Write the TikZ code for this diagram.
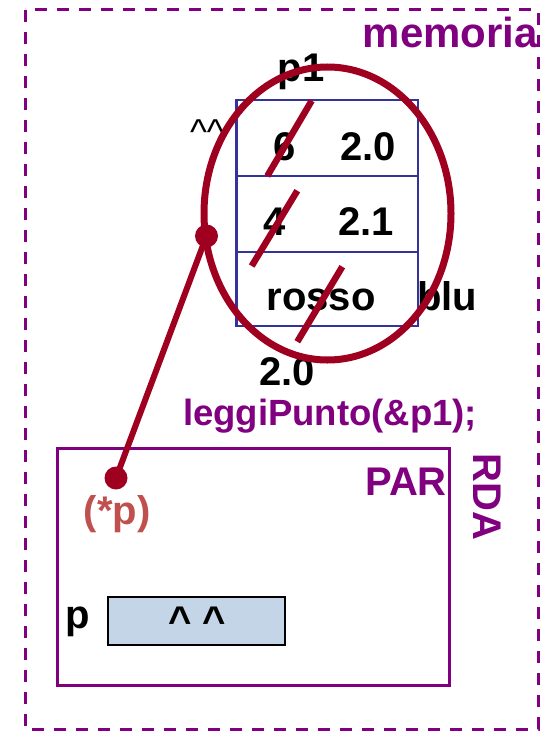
\documentclass[tikz,border=0pt]{standalone}
\usepackage{fontspec}
\setmainfont{Liberation Sans}
\definecolor{mpurple}{RGB}{128,0,128}
\definecolor{mred}{RGB}{160,0,32}
\definecolor{msalmon}{RGB}{192,80,77}
\definecolor{mblue}{RGB}{51,51,153}
\definecolor{mfill}{RGB}{197,213,232}
\tikzset{
  lbl/.style={inner sep=0pt, anchor=base, font=\bfseries\fontsize{40}{48}\selectfont},
  dotnode/.style={circle, fill=mred, inner sep=0pt, minimum size=23pt},
  redline/.style={draw=mred, line width=6pt},
  slash/.style={draw=mred, line width=6.5pt},
}
\begin{document}
\begin{tikzpicture}[x=1pt,y=-1pt]
\useasboundingbox (0,0) rectangle (547,733);
% memoria
\draw[mpurple, line width=3pt, dash pattern=on 12pt off 10pt] (25,10) rectangle (538,729);
\node[lbl, anchor=base east, text=mpurple, font=\bfseries\fontsize{42}{48}\selectfont] (memoria) at (538,48) {memoria};
% table
\draw[mblue, line width=2.5pt] (236.5,100) rectangle (418,326);
\draw[mblue, line width=2.5pt] (236.5,176) -- (418,176);
\draw[mblue, line width=2.5pt] (236.5,252) -- (418,252);
\node[lbl] (p1) at (301,82) {p1};
\node[inner sep=0pt, anchor=base, font=\fontsize{36}{40}\selectfont] (hat) at (207,144) {\^{}\^{}};
\node[lbl] (a1) at (285,160) {6};
\node[lbl] (b1) at (368,160) {2.0};
\node[lbl] (a2) at (275,235) {4};
\node[lbl] (b2) at (366,235) {2.1};
\node[lbl] (c3) at (321,310) {rosso};
\node[lbl] (blu) at (447,310) {blu};
\node[lbl] (v20) at (287,385) {2.0};
% slashes
\draw[slash] (311.7,100.7) -- (267.3,176);
\draw[slash] (297.3,190.7) -- (251.7,266);
\draw[slash] (342.3,266.7) -- (297.3,341.7);
% ellipse
\draw[mred, line width=7pt] (327.5,213.5) ellipse [x radius=123.5pt, y radius=146.5pt];
% call
\node[lbl, text=mpurple, font=\bfseries\fontsize{36.5}{44}\selectfont] (call) at (330,425) {leggiPunto(\&p1);};
% PAR box
\draw[mpurple, line width=3pt] (57,448) rectangle (449,685);
\node[lbl, anchor=base east, text=mpurple] (par) at (447,495) {PAR};
\node[lbl, text=mpurple, rotate=-90, anchor=center] (rda) at (487,497) {RDA};
\node[lbl, text=msalmon] (star) at (117,524) {(*p)};
\node[lbl] (p) at (78,628) {p};
\node[draw=black, fill=mfill, line width=2pt, minimum width=177pt, minimum height=48pt, inner sep=0pt] (pbox) at (196.5,621) {};
\node[inner sep=0pt, anchor=base, font=\bfseries\fontsize{40}{44}\selectfont] (pval) at (197,634) {\^{} \^{}};
% pointer
\node[dotnode] (d1) at (206.5,236) {};
\node[dotnode] (d2) at (116,478) {};
\draw[redline] (d1.center) -- (d2.center);
\end{tikzpicture}
\end{document}
